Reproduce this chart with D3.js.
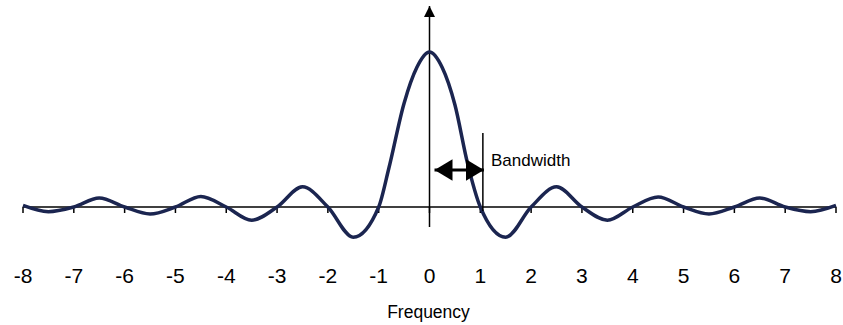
<!DOCTYPE html>
<html lang="en">
<head>
<style>
html, body {
    margin: 0;
    padding: 0;
    background: #fff;
}
svg {
    display: block;
    width: 843px;
    height: 325px;
}
text {
    font-family: "Liberation Sans", Arial, sans-serif;
    fill: #000;
}
</style>
</head>
<body>
<svg></svg>

<script src="https://cdn.jsdelivr.net/npm/d3@7/dist/d3.min.js"></script>
<script>
// sinc-shaped spectrum, values

var frequency = [-8, -7.5, -7, -6.5, -6, -5.5, -5, -4.5, -4, -3.5, -3, -2.5, -2, -1.5, -1,
    -0.8, -0.5, -0.25, 0, 0.25, 0.5, 0.75, 1,
    1.5, 2, 2.5, 3, 3.5, 4, 4.5, 5, 5.5, 6, 6.5, 7, 7.5, 8];
var amplitude = [0.01, -0.03, 0, 0.058, 0, -0.045, 0, 0.068, 0, -0.085, 0, 0.13, 0, -0.195, 0,
    0.25, 0.67, 0.9, 1.0, 0.9, 0.66, 0.28, 0,
    -0.195, 0, 0.13, 0, -0.085, 0, 0.065, 0, -0.045, 0, 0.058, 0, -0.03, 0.01];

var tickValues = [-8, -7, -6, -5, -4, -3, -2, -1, 0, 1, 2, 3, 4, 5, 6, 7, 8];
var bandwidth = [0, 1.07];   // double arrow from the axis to the marker line
var xTitle = "Frequency";
var bandLabel = "Bandwidth";

var svg = d3.select("svg");

var x = d3.scaleLinear().domain([-8, 8]).range([23, 836]);
var y = d3.scaleLinear().domain([0, 1]).range([207, 52]);

var points = frequency.map(function(f, i){ return [f, amplitude[i]]; });

// arrow markers
var defs = svg.append("defs");
defs.append("marker")
    .attr("id", "axisArrow")
    .attr("viewBox", "0 0 10 10")
    .attr("refX", 10).attr("refY", 5)
    .attr("markerWidth", 11).attr("markerHeight", 11)
    .attr("markerUnits", "userSpaceOnUse")
    .attr("orient", "auto")
    .append("path")
    .attr("d", "M0,0 L10,5 L0,10 Z")
    .attr("fill", "#000");

defs.append("marker")
    .attr("id", "bwArrow")
    .attr("viewBox", "0 0 10 12")
    .attr("refX", 10).attr("refY", 6)
    .attr("markerWidth", 18).attr("markerHeight", 22)
    .attr("markerUnits", "userSpaceOnUse")
    .attr("orient", "auto-start-reverse")
    .append("path")
    .attr("d", "M0,0 L10,6 L0,12 Z")
    .attr("fill", "#000");

// x axis: line + ticks pointing down, labels further below
var xAxis = svg.append("g").attr("transform", "translate(0," + y(0) + ")");
xAxis.append("line")
    .attr("x1", x(-8)).attr("x2", x(8))
    .attr("stroke", "#000").attr("stroke-width", 1.5);
xAxis.selectAll(".tick")
    .data(tickValues)
    .enter().append("line")
    .attr("x1", function(d){ return x(d); })
    .attr("x2", function(d){ return x(d); })
    .attr("y1", 0).attr("y2", 6)
    .attr("stroke", "#000").attr("stroke-width", 1.5);

svg.selectAll(".tickLabel")
    .data(tickValues)
    .enter().append("text")
    .attr("x", function(d){ return x(d); })
    .attr("y", 283)
    .attr("text-anchor", "middle")
    .style("font-size", "21px")
    .text(function(d){ return d; });

svg.append("text")
    .attr("x", x(0) - 1)
    .attr("y", 318)
    .attr("text-anchor", "middle")
    .style("font-size", "17.5px")
    .text(xTitle);

// y axis with arrow head
svg.append("line")
    .attr("x1", x(0)).attr("x2", x(0))
    .attr("y1", 227).attr("y2", 6)
    .attr("stroke", "#000").attr("stroke-width", 1.5)
    .attr("marker-end", "url(#axisArrow)");

// the curve
var line = d3.line()
    .x(function(d){ return x(d[0]); })
    .y(function(d){ return y(d[1]); })
    .curve(d3.curveMonotoneX);

svg.append("path")
    .attr("d", line(points))
    .attr("fill", "none")
    .attr("stroke", "#1b2550")
    .attr("stroke-width", 3.5)
    .attr("stroke-linejoin", "round");

// bandwidth marker
svg.append("line")
    .attr("x1", x(bandwidth[1]) - 1).attr("x2", x(bandwidth[1]) - 1)
    .attr("y1", 133).attr("y2", 211)
    .attr("stroke", "#000").attr("stroke-width", 1.5);

svg.append("line")
    .attr("x1", x(bandwidth[0]) + 5).attr("x2", x(bandwidth[1]))
    .attr("y1", 170).attr("y2", 170)
    .attr("stroke", "#000").attr("stroke-width", 3)
    .attr("marker-start", "url(#bwArrow)")
    .attr("marker-end", "url(#bwArrow)");

svg.append("text")
    .attr("x", 491)
    .attr("y", 166)
    .style("font-size", "17px")
    .text(bandLabel);
</script>
</body>
</html>
